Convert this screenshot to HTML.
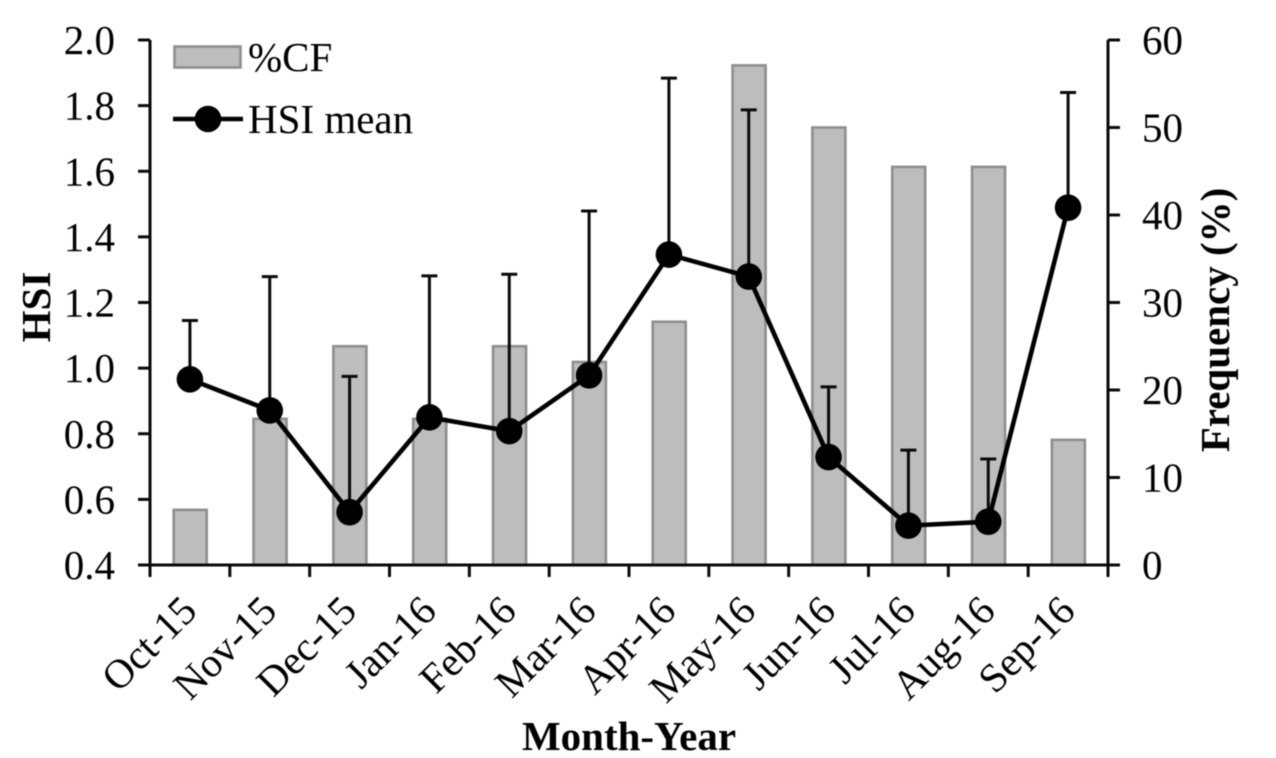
<!DOCTYPE html>
<html>
<head>
<meta charset="utf-8">
<style>
html,body{margin:0;padding:0;background:#fff;width:1276px;height:758px;overflow:hidden}
svg{display:block;filter:blur(0.5px)}
text{font-family:"Liberation Serif",serif;fill:#000}
</style>
</head>
<body>
<svg id="chart" width="1276" height="758" viewBox="0 0 1276 758" xmlns="http://www.w3.org/2000/svg"></svg>
<script>
const categories = ["Oct-15","Nov-15","Dec-15","Jan-16","Feb-16","Mar-16","Apr-16","May-16","Jun-16","Jul-16","Aug-16","Sep-16"];
const frequency = [6.3,16.7,25,16.7,25,23.2,27.8,57.1,50,45.5,45.5,14.3];
const hsiMean = [0.966,0.871,0.561,0.850,0.808,0.978,1.346,1.279,0.729,0.520,0.532,1.489];
const hsiUpper = [1.145,1.279,0.975,1.281,1.286,1.479,1.884,1.787,0.943,0.750,0.723,1.840];
const hsiTicks = ["0.4","0.6","0.8","1.0","1.2","1.4","1.6","1.8","2.0"];
const freqTicks = ["0","10","20","30","40","50","60"];

const svg = document.getElementById('chart');
const NS = 'http://www.w3.org/2000/svg';
const L = 150, R = 1108, T = 40, B = 565;
const FONT = 41;
const yHsi = v => B - (v - 0.4) / 1.6 * (B - T);
const yFreq = v => B - v / 60 * (B - T);
const xBand = i => L + i * (R - L) / categories.length;
const xMid = i => xBand(i + 0.5);

function make(tag, attrs, text) {
  const el = document.createElementNS(NS, tag);
  for (const k in attrs) el.setAttribute(k, attrs[k]);
  if (text !== undefined) el.textContent = text;
  svg.appendChild(el);
  return el;
}
const INK = '#0a0a0a';
const AXW = 3;

categories.forEach((c, i) => {
  const y = yFreq(frequency[i]);
  const el = make('rect', {x: xMid(i) - 16.2, y: y, width: 33, height: B - y, fill: '#bdbdbd', stroke: '#8e8e8e', 'stroke-width': 2.6});
  
  
});

// axes
let ax = make('line', {x1: L, y1: T, x2: L, y2: B + 12, stroke: INK, 'stroke-width': AXW});


ax = make('line', {x1: R, y1: T, x2: R, y2: B + 12, stroke: INK, 'stroke-width': AXW});


ax = make('line', {x1: L - 12, y1: B, x2: R + 12, y2: B, stroke: INK, 'stroke-width': AXW});



hsiTicks.forEach(t => {
  const y = yHsi(parseFloat(t));
  const tk = make('line', {x1: L - 12, y1: y, x2: L, y2: y, stroke: INK, 'stroke-width': AXW});
  
  
  const lb = make('text', {x: 115, y: y + 14, 'font-size': FONT, 'text-anchor': 'end'}, t);
  
  
});
freqTicks.forEach(t => {
  const y = yFreq(parseFloat(t));
  const tk = make('line', {x1: R, y1: y, x2: R + 12, y2: y, stroke: INK, 'stroke-width': AXW});
  
  
  const lb = make('text', {x: 1142, y: y + 14, 'font-size': FONT}, t);
  
  
});
for (let i = 0; i <= categories.length; i++) {
  const tk = make('line', {x1: xBand(i), y1: B, x2: xBand(i), y2: B + 12, stroke: INK, 'stroke-width': AXW});
  
  
}
categories.forEach((c, i) => {
  const x = xMid(i) + 9, y = 613;
  const lb = make('text', {x: x, y: y, 'font-size': FONT, 'text-anchor': 'end', transform: 'rotate(-45 ' + x + ' ' + y + ')'}, c);
  
  
});

// error bars
categories.forEach((c, i) => {
  const x = xMid(i), y1 = yHsi(hsiMean[i]), y2 = yHsi(hsiUpper[i]);
  const v = make('line', {x1: x, y1: y1, x2: x, y2: y2, stroke: INK, 'stroke-width': AXW});
  
  
  const cap = make('line', {x1: x - 8, y1: y2, x2: x + 8, y2: y2, stroke: INK, 'stroke-width': AXW});
  
  
});

// HSI line
const line = make('polyline', {points: hsiMean.map((v, i) => xMid(i) + ',' + yHsi(v)).join(' '), fill: 'none', stroke: '#000', 'stroke-width': 4.6, 'stroke-linejoin': 'round'});


hsiMean.forEach((v, i) => {
  const p = make('circle', {cx: xMid(i), cy: yHsi(v), r: 13.3, fill: '#000'});
  
  
});

// legend
const swatch = make('rect', {x: 174.5, y: 46.5, width: 66, height: 21, fill: '#bdbdbd', stroke: '#8e8e8e', 'stroke-width': 2.6});


const lt1 = make('text', {x: 248, y: 71, 'font-size': FONT}, '%CF');


const ll = make('line', {x1: 173, y1: 119, x2: 243, y2: 119, stroke: '#000', 'stroke-width': 4.6});


const lc = make('circle', {cx: 208, cy: 119, r: 13.3, fill: '#000'});


const lt2 = make('text', {x: 248, y: 133, 'font-size': FONT}, 'HSI mean');



// titles
const t1 = make('text', {x: 0, y: 0, 'font-size': FONT, 'font-weight': 'bold', 'text-anchor': 'middle', transform: 'translate(50 307) rotate(-90)'}, 'HSI');


const t2 = make('text', {x: 0, y: 0, 'font-size': FONT, 'font-weight': 'bold', 'text-anchor': 'middle', transform: 'translate(1229 320) rotate(-90)'}, 'Frequency (%)');


const t3 = make('text', {x: 629, y: 750, 'font-size': FONT, 'font-weight': 'bold', 'text-anchor': 'middle'}, 'Month-Year');


</script>
</body>
</html>
